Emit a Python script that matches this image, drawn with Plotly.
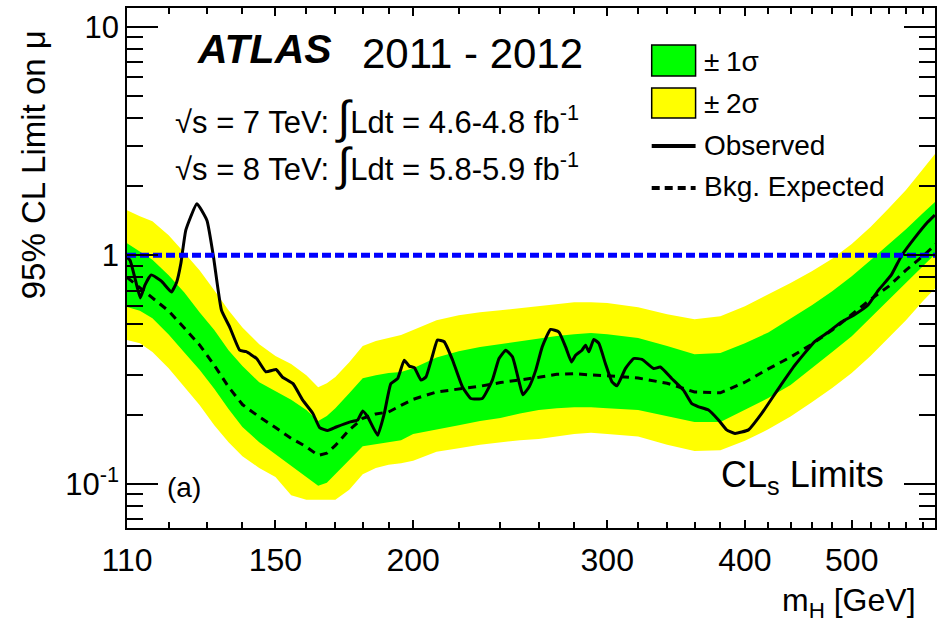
import math
import plotly.graph_objects as go

# ---------------- data ----------------
mass_band = [110, 113, 116, 120, 124, 128, 132, 136, 140, 145,
             150, 155, 160, 164, 167, 170, 175, 180, 185, 190,
             195, 200, 210, 220, 230, 240, 250, 260, 270, 280,
             290, 300, 320, 340, 360, 380, 400, 420, 440, 460,
             480, 500, 520, 540, 560, 580, 600]

yellow_up = [1.574, 1.481, 1.408, 1.223, 1.025, 0.860, 0.703, 0.574, 0.482, 0.408,
             0.362, 0.334, 0.298, 0.264, 0.275, 0.293, 0.340, 0.400, 0.421, 0.434,
             0.447, 0.470, 0.519, 0.546, 0.563, 0.574, 0.586, 0.598, 0.610, 0.623,
             0.623, 0.617, 0.592, 0.552, 0.525, 0.541, 0.598, 0.672, 0.755, 0.850,
             0.965, 1.120, 1.330, 1.600, 1.930, 2.380, 2.920]

green_up = [1.128, 1.041, 0.956, 0.818, 0.686, 0.563, 0.470, 0.384, 0.327, 0.278,
            0.254, 0.233, 0.210, 0.188, 0.198, 0.214, 0.249, 0.289, 0.298, 0.305,
            0.308, 0.320, 0.357, 0.380, 0.396, 0.408, 0.421, 0.434, 0.443, 0.451,
            0.456, 0.451, 0.434, 0.400, 0.369, 0.373, 0.412, 0.459, 0.530, 0.604,
            0.696, 0.809, 0.951, 1.117, 1.299, 1.527, 1.775]

green_lo = [0.594, 0.572, 0.530, 0.450, 0.375, 0.315, 0.260, 0.212, 0.177, 0.152,
            0.135, 0.120, 0.107, 0.098, 0.101, 0.110, 0.127, 0.146, 0.149, 0.152,
            0.155, 0.165, 0.173, 0.180, 0.188, 0.194, 0.203, 0.210, 0.214, 0.216,
            0.216, 0.214, 0.210, 0.198, 0.186, 0.186, 0.210, 0.237, 0.270, 0.320,
            0.377, 0.442, 0.530, 0.635, 0.754, 0.895, 1.052]

yellow_lo = [0.425, 0.412, 0.377, 0.320, 0.264, 0.221, 0.180, 0.152, 0.132, 0.117,
             0.107, 0.089, 0.085, 0.085, 0.085, 0.085, 0.094, 0.110, 0.117, 0.121,
             0.123, 0.126, 0.138, 0.143, 0.148, 0.152, 0.155, 0.157, 0.161, 0.165,
             0.167, 0.165, 0.161, 0.148, 0.139, 0.140, 0.154, 0.173, 0.197, 0.227,
             0.262, 0.305, 0.362, 0.433, 0.519, 0.629, 0.746]

expected = [0.80, 0.72, 0.655, 0.57, 0.48, 0.405, 0.33, 0.265, 0.222, 0.196,
            0.176, 0.158, 0.145, 0.133, 0.136, 0.147, 0.172, 0.193, 0.202, 0.206,
            0.220, 0.234, 0.252, 0.260, 0.267, 0.277, 0.284, 0.292, 0.301, 0.303,
            0.299, 0.297, 0.290, 0.275, 0.252, 0.250, 0.278, 0.318, 0.358, 0.408,
            0.470, 0.550, 0.640, 0.730, 0.860, 0.990, 1.150]

mass_obs = [110.0, 110.7, 111.8, 113.1, 114.2, 115.7, 118.2, 120.7, 122.0, 123.1,
            124.4, 127.3, 130.0, 131.8, 134.0, 136.3, 139.2, 141.1, 144.2, 147.0,
            149.2, 150.2, 152.2, 155.6, 158.8, 162.2, 164.5, 167.3, 170.3, 175.1,
            178.1, 180.0, 181.9, 185.7, 188.3, 190.9, 193.6, 196.3, 198.4, 200.5,
            203.3, 205.4, 208.3, 210.4, 213.4, 217.2, 221.7, 225.6, 231.1, 236.0,
            239.3, 242.7, 246.1, 249.5, 251.5, 254.8, 258.4, 261.9, 266.5, 271.2,
            275.0, 278.4, 280.8, 284.6, 286.7, 288.7, 291.7, 294.8, 298.9, 303.0,
            306.2, 311.6, 317.0, 322.6, 330.5, 335.2, 343.4, 351.9, 358.0, 363.1,
            370.7, 378.5, 385.0, 391.8, 403.0, 414.3, 428.9, 444.0, 463.0, 475.9,
            489.3, 503.2, 517.3, 528.3, 543.1, 554.5, 570.3, 586.3, 594.8]

obs_limit = [0.98, 0.95, 0.80, 0.65, 0.74, 0.82, 0.77, 0.69, 0.76, 0.92,
             1.29, 1.68, 1.42, 0.98, 0.574, 0.486, 0.384, 0.378, 0.353, 0.309,
             0.314, 0.316, 0.293, 0.274, 0.232, 0.203, 0.176, 0.171, 0.177, 0.186,
             0.190, 0.208, 0.196, 0.163, 0.203, 0.274, 0.288, 0.347, 0.327, 0.322,
             0.284, 0.293, 0.365, 0.425, 0.418, 0.347, 0.265, 0.236, 0.236, 0.284,
             0.353, 0.384, 0.359, 0.280, 0.245, 0.265, 0.314, 0.397, 0.473, 0.461,
             0.397, 0.341, 0.365, 0.384, 0.404, 0.378, 0.428, 0.411, 0.335, 0.279,
             0.268, 0.319, 0.353, 0.350, 0.319, 0.324, 0.288, 0.256, 0.224, 0.217,
             0.210, 0.190, 0.172, 0.166, 0.172, 0.203, 0.260, 0.330, 0.420, 0.460,
             0.510, 0.550, 0.605, 0.700, 0.820, 0.990, 1.190, 1.400, 1.500]

mu_ref_mass = [110, 600]
mu_ref = [1.0, 1.0]

x_major = [110, 150, 200, 300, 400, 500]
x_major_text = ["110", "150", "200", "300", "400", "500"]
x_minor = [120, 130, 140, 160, 170, 180, 190, 220, 240, 260, 280, 320, 340,
           360, 380, 420, 440, 460, 480, 520, 540, 560, 580]
y_major = [0.1, 1, 10]
y_major_text = ["10<sup>-1</sup>", "1", "10"]
y_minor = [0.07, 0.08, 0.09, 0.2, 0.3, 0.4, 0.5, 0.6, 0.7, 0.8, 0.9,
           2, 3, 4, 5, 6, 7, 8, 9]

# ---------------- layout helpers ----------------
W, H = 937, 623
L, R, T, B = 127, 0, 8, 95
PW, PH = W - L - R, H - T - B
FONT = "Liberation Sans, Arial, Helvetica, sans-serif"


def fx(px):
    return (px - L) / PW


def fy(py):
    return (H - B - py) / PH


fig = go.Figure()

band_x = mass_band + mass_band[::-1]
fig.add_trace(go.Scatter(x=band_x, y=yellow_up + yellow_lo[::-1], mode="lines",
                         fill="toself", fillcolor="#ffff00", line=dict(width=0),
                         hoverinfo="skip", showlegend=False))
fig.add_trace(go.Scatter(x=band_x, y=green_up + green_lo[::-1], mode="lines",
                         fill="toself", fillcolor="#00ff00", line=dict(width=0),
                         hoverinfo="skip", showlegend=False))
fig.add_trace(go.Scatter(x=mass_band, y=expected, mode="lines",
                         line=dict(color="black", width=3, dash="8px,6px"),
                         showlegend=False))
fig.add_trace(go.Scatter(x=mass_obs, y=obs_limit, mode="lines",
                         line=dict(color="black", width=3, shape="spline", smoothing=0.4),
                         showlegend=False))
fig.add_trace(go.Scatter(x=mu_ref_mass, y=mu_ref, mode="lines",
                         line=dict(color="#0000ff", width=5, dash="9px,4px"),
                         showlegend=False))

axis_common = dict(showgrid=False, zeroline=False, showline=True, linecolor="black",
                   linewidth=1.5, mirror="ticks", ticks="inside", tickcolor="black",
                   tickwidth=1.5, tickmode="array")

fig.update_xaxes(type="log", range=[math.log10(110), math.log10(595)],
                 tickvals=x_major, ticktext=x_major_text, ticklen=8,
                 ticklabelstandoff=3,
                 tickfont=dict(family=FONT, size=32, color="black"),
                 minor=dict(tickmode="array", tickvals=x_minor, ticks="inside",
                            ticklen=6, tickwidth=1.5, tickcolor="black", showgrid=False),
                 **axis_common)
fig.update_yaxes(type="log", range=[-1.194, 1.082],
                 tickvals=y_major, ticktext=y_major_text, ticklen=31,
                 tickfont=dict(family=FONT, size=31, color="black"),
                 minor=dict(tickmode="array", tickvals=y_minor, ticks="inside",
                            ticklen=16, tickwidth=1.5, tickcolor="black", showgrid=False),
                 **axis_common)

ann = []


def add_text(text, px, py, size, xanchor="left", yanchor="middle", angle=0):
    ann.append(dict(text=text, xref="paper", yref="paper", x=fx(px), y=fy(py),
                    xanchor=xanchor, yanchor=yanchor, showarrow=False, textangle=angle,
                    font=dict(family=FONT, size=size, color="black")))


add_text("<b><i>ATLAS</i></b>", 195, 49, 41)
add_text("2011 - 2012", 361, 53, 42)
add_text("√s = 7 TeV: <span style='font-size:46px'>∫</span>Ldt = 4.6-4.8 fb<sup>-1</sup>",
         173, 117, 31)
add_text("√s = 8 TeV: <span style='font-size:46px'>∫</span>Ldt = 5.8-5.9 fb<sup>-1</sup>",
         173, 164, 31)
add_text("±", 703, 62, 28)
add_text("1σ", 725, 62, 28)
add_text("±", 703, 103, 28)
add_text("2σ", 725, 103, 28)
add_text("Observed", 703, 146, 28)
add_text("Bkg. Expected", 703, 186, 28)
add_text("(a)", 165, 487, 28)
add_text("CL<sub>s</sub> Limits", 720, 477, 36)
add_text("m<sub>H</sub> [GeV]", 920, 602, 32, xanchor="right")
add_text("95% CL Limit on μ", 33, 165, 33, xanchor="center", angle=-90)

shapes = [
    dict(type="rect", xref="paper", yref="paper", x0=fx(653), x1=fx(697),
         y0=fy(76), y1=fy(45), fillcolor="#00ff00", line=dict(color="black", width=1.5)),
    dict(type="rect", xref="paper", yref="paper", x0=fx(653), x1=fx(697),
         y0=fy(118), y1=fy(88), fillcolor="#ffff00", line=dict(color="black", width=1.5)),
    dict(type="line", xref="paper", yref="paper", x0=fx(653), x1=fx(697),
         y0=fy(146), y1=fy(146), line=dict(color="black", width=4)),
    dict(type="line", xref="paper", yref="paper", x0=fx(653), x1=fx(697),
         y0=fy(188), y1=fy(188), line=dict(color="black", width=4, dash="8px,5px")),
]

fig.update_layout(width=W, height=H, margin=dict(l=L, r=R, t=T, b=B, pad=0),
                  plot_bgcolor="white", paper_bgcolor="white", showlegend=False,
                  font=dict(family=FONT, color="black"),
                  annotations=ann, shapes=shapes)

fig.write_html("out.html")
